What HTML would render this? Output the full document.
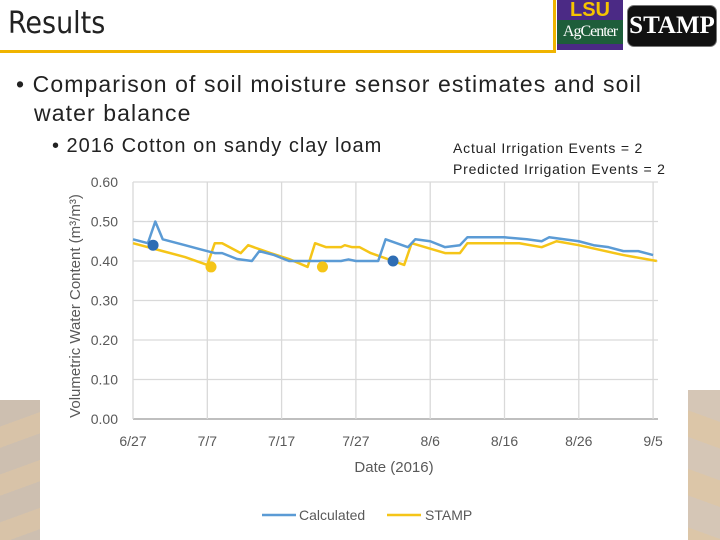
<!DOCTYPE html>
<html><head><meta charset="utf-8">
<style>
body{margin:0;width:720px;height:540px;overflow:hidden;background:#fff;font-family:"Liberation Sans",sans-serif;position:relative}
.abs{position:absolute}
.txt{z-index:5}
</style></head><body>
<div class="abs" style="left:0;top:400px;width:40px;height:140px;background:repeating-linear-gradient(160deg,#cdbfb0 0 25px,#d8c3a8 25px 45px)"></div>
<div class="abs" style="left:688px;top:390px;width:32px;height:150px;background:repeating-linear-gradient(200deg,#d5c6b6 0 30px,#dcc6a8 30px 55px)"></div>
<div class="abs txt" style="left:8px;top:6px;font-size:30px;color:#222;font-family:'DejaVu Sans Condensed','Liberation Sans Narrow','Liberation Sans',sans-serif;font-weight:300">Results</div>
<div class="abs" style="left:0;top:50px;width:556px;height:3px;background:#f0b400"></div>
<div class="abs" style="left:553px;top:0;width:3px;height:53px;background:#f0b400"></div>
<div class="abs" style="left:557px;top:0;width:66px;height:50px;background:#fff">
  <div style="height:20px;background:#4b2a85;color:#f5c400;font-weight:bold;font-size:20px;line-height:20px;text-align:center;font-family:'Liberation Sans Narrow','Liberation Sans',sans-serif">LSU</div>
  <div style="height:24px;background:#1e5e3a;color:#fff;font-size:16px;line-height:24px;text-align:center;font-family:'Liberation Serif',serif;letter-spacing:-1px">AgCenter</div>
  <div style="height:6px;background:#4b2a85"></div>
</div>
<div class="abs" style="left:627px;top:5px;width:88px;height:40px;background:#111;border:1px solid #777;border-radius:7px;color:#fff;font-family:'Liberation Serif',serif;font-weight:bold;font-size:25px;line-height:40px;text-align:center">STAMP</div>

<div class="abs txt" style="left:16px;top:70px;font-size:23px;letter-spacing:1.1px;color:#222;line-height:29px;white-space:nowrap">• Comparison of soil moisture sensor estimates and soil<br><span style="padding-left:18px">water balance</span></div>
<div class="abs txt" style="left:52px;top:135px;font-size:20px;letter-spacing:1px;color:#222;white-space:nowrap">• 2016 Cotton on sandy clay loam</div>
<div class="abs txt" style="left:453px;top:138px;font-size:14px;letter-spacing:0.8px;color:#222;line-height:21px;white-space:nowrap">Actual Irrigation Events = 2<br>Predicted Irrigation Events = 2</div>

<svg class="abs" style="left:0;top:0" width="720" height="540">
<rect x="40" y="172" width="648" height="368" fill="#fff"/>
<g id="grid"></g><g id="series"></g><g id="labels"></g>
<text transform="translate(80,306) rotate(-90)" text-anchor="middle" font-size="15" fill="#595959">Volumetric Water Content (m³/m³)</text>
<text x="394" y="472" text-anchor="middle" font-size="15" fill="#595959">Date (2016)</text>
<line x1="262" y1="515" x2="296" y2="515" stroke="#5b9bd5" stroke-width="2.5"/>
<text x="299" y="520" font-size="14" fill="#595959">Calculated</text>
<line x1="387" y1="515" x2="421" y2="515" stroke="#f5c518" stroke-width="2.5"/>
<text x="425" y="520" font-size="14" fill="#595959">STAMP</text>
</svg>
<script>
const yTicks=[0,0.1,0.2,0.3,0.4,0.5,0.6];
const xTickDays=[0,10,20,30,40,50,60,70];
const xTickLabels=["6/27","7/7","7/17","7/27","8/6","8/16","8/26","9/5"];
const calcDays=[0,2,3,4,7,9,11,12,14,16,17,19,21,25,28,29,30,33,34,37,38,40,42,44,45,50,53,55,56,58,60,62,64,66,68,70];
const calcVals=[0.455,0.445,0.50,0.455,0.44,0.43,0.42,0.42,0.405,0.40,0.425,0.415,0.40,0.40,0.40,0.404,0.40,0.40,0.455,0.435,0.455,0.45,0.435,0.44,0.46,0.46,0.455,0.45,0.46,0.455,0.45,0.44,0.435,0.425,0.425,0.415];
const stampDays=[0,4,7,10,11,12,14.5,15.5,18.5,21,23.5,24.5,26,28,28.5,29.5,30.5,32,36.5,37.5,42,44,45,50,52,55,57,60,66,70.5];
const stampVals=[0.445,0.425,0.41,0.39,0.445,0.445,0.42,0.44,0.42,0.405,0.385,0.445,0.435,0.435,0.44,0.435,0.435,0.42,0.39,0.445,0.42,0.42,0.445,0.445,0.445,0.435,0.45,0.44,0.415,0.40];
const calcMarkDays=[2.7,35];
const calcMarkVals=[0.44,0.40];
const stampMarkDays=[10.5,25.5];
const stampMarkVals=[0.385,0.385];
const NS='http://www.w3.org/2000/svg';
const X=d=>133+d*7.43, Y=v=>419-v*395;
function mk(t,a,p){const e=document.createElementNS(NS,t);for(const k in a)e.setAttribute(k,a[k]);document.getElementById(p).appendChild(e);return e;}
yTicks.forEach(v=>{
  const l=mk('line',{x1:133,x2:658,y1:Y(v),y2:Y(v),stroke:v===0?'#bfbfbf':'#d9d9d9','stroke-width':v===0?2:1.3},'grid');
  
  
  const t=mk('text',{x:118,y:Y(v)+5,'text-anchor':'end','font-size':14,fill:'#595959'},'labels');
  t.textContent=v.toFixed(2);
  
  
});
xTickDays.forEach((d,i)=>{
  const l=mk('line',{x1:X(d),x2:X(d),y1:Y(0.6),y2:Y(0),stroke:'#d9d9d9','stroke-width':1.3},'grid');
  
  
  const t=mk('text',{x:X(d),y:446,'text-anchor':'middle','font-size':14,fill:'#595959'},'labels');
  t.textContent=xTickLabels[i];
  
  
});
function line(ds,vs,c,n){
  const p=mk('polyline',{points:ds.map((d,i)=>X(d)+','+Y(vs[i])).join(' '),fill:'none',stroke:c,'stroke-width':2.5,'stroke-linejoin':'round'},'series');
  
  
}
line(stampDays,stampVals,'#f5c518','stamp-line');
line(calcDays,calcVals,'#5b9bd5','calculated-line');
calcMarkDays.forEach((d,i)=>{const c=mk('circle',{cx:X(d),cy:Y(calcMarkVals[i]),r:5.5,fill:'#2e6db4'},'series');
  
  });
stampMarkDays.forEach((d,i)=>{const c=mk('circle',{cx:X(d),cy:Y(stampMarkVals[i]),r:5.5,fill:'#f5c518'},'series');
  
  });
</script>
</body></html>
